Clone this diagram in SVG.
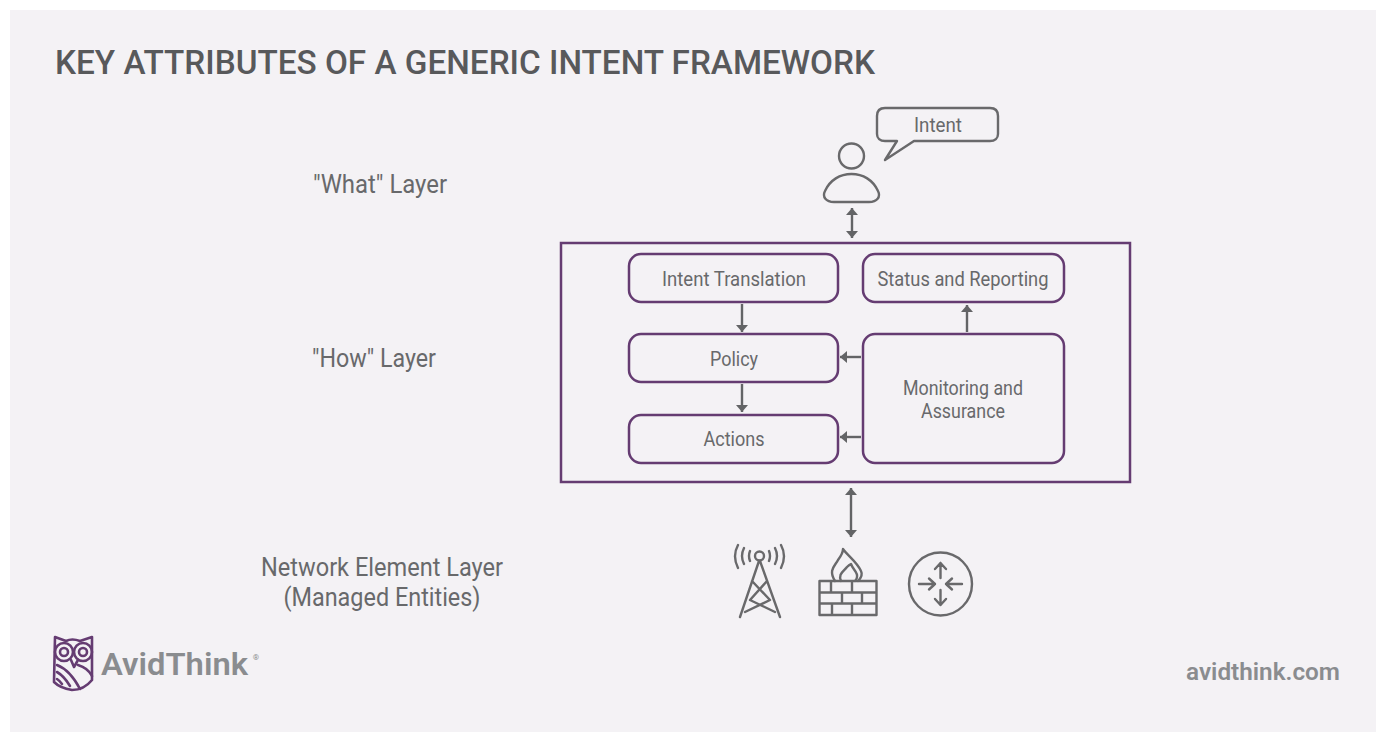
<svg xmlns="http://www.w3.org/2000/svg" width="1376" height="732" viewBox="0 0 1376 732">
<style>
text{font-family:"Roboto","Liberation Sans",sans-serif;fill:#68696b;text-anchor:middle}
.box{fill:none;stroke:#653c72;stroke-width:2.5}
.ln{fill:none;stroke:#69696b;stroke-width:2.4;stroke-linecap:round;stroke-linejoin:round}
.c{fill:none;stroke:#636466;stroke-width:2.4;marker-end:url(#a)}
.d{fill:none;stroke:#636466;stroke-width:2.4;marker-start:url(#s);marker-end:url(#a)}
.l{font-size:26px;font-weight:450}
.n{font-size:21px;font-weight:450}
.o{fill:none;stroke:#653c72;stroke-width:2.6;stroke-linejoin:round;stroke-linecap:round}
</style>
<defs>
<marker id="a" markerUnits="userSpaceOnUse" markerWidth="14" markerHeight="14" refX="11" refY="7" orient="auto"><path d="M4 1L11 7L4 13Z" fill="#636466"/></marker>
<marker id="s" markerUnits="userSpaceOnUse" markerWidth="14" markerHeight="14" refX="3" refY="7" orient="auto"><path d="M10 1L3 7L10 13Z" fill="#636466"/></marker>
</defs>
<rect width="1376" height="732" fill="#fff"/>
<rect x="10" y="10" width="1366" height="722" fill="#f4f2f5"/>
<text x="55" y="74" style="text-anchor:start;font-size:34px;font-weight:500;fill:#58595b" textLength="820" lengthAdjust="spacingAndGlyphs">KEY ATTRIBUTES OF A GENERIC INTENT FRAMEWORK</text>
<text class="l" x="380" y="193" textLength="134" lengthAdjust="spacingAndGlyphs">"What" Layer</text>
<text class="l" x="374" y="367" textLength="124" lengthAdjust="spacingAndGlyphs">"How" Layer</text>
<text class="l" x="382" y="576" textLength="242" lengthAdjust="spacingAndGlyphs">Network Element Layer</text>
<text class="l" x="382" y="606" textLength="197" lengthAdjust="spacingAndGlyphs">(Managed Entities)</text>
<g id="connectors">
<path class="d" d="M852 208V238"/>
<path class="d" d="M851 488V537"/>
<path class="c" d="M742 304V332"/>
<path class="c" d="M742 384V412"/>
<path class="c" d="M967 332V305"/>
<path class="c" d="M861 357H840"/>
<path class="c" d="M861 437H840"/>
</g>
<g id="how-layer"><rect class="box" x="561" y="243" width="569" height="239"/></g>
<g id="intent-translation"><rect class="box" x="629" y="254" width="209" height="48" rx="12"/><text class="n" x="734" y="286" textLength="144" lengthAdjust="spacingAndGlyphs">Intent Translation</text></g>
<g id="policy"><rect class="box" x="629" y="334" width="209" height="48" rx="12"/><text class="n" x="734" y="366" textLength="48" lengthAdjust="spacingAndGlyphs">Policy</text></g>
<g id="actions"><rect class="box" x="629" y="415" width="209" height="48" rx="12"/><text class="n" x="734" y="446" textLength="61" lengthAdjust="spacingAndGlyphs">Actions</text></g>
<g id="status"><rect class="box" x="863" y="254" width="201" height="48" rx="12"/><text class="n" x="963" y="286" textLength="171" lengthAdjust="spacingAndGlyphs">Status and Reporting</text></g>
<g id="monitoring"><rect class="box" x="863" y="334" width="201" height="129" rx="12"/><text class="n" x="963" y="395" textLength="120" lengthAdjust="spacingAndGlyphs">Monitoring and</text><text class="n" x="963" y="418" textLength="84" lengthAdjust="spacingAndGlyphs">Assurance</text></g>
<g id="user">
<circle class="ln" cx="851.500" cy="156" r="12.500"/>
<path class="ln" d="M834 202C826 202 822 197 825 191C830 180 840 174 851.500 174C863 174 873 180 878 191C881 197 877 202 869 202Z"/>
<path class="ln" d="M885 160L897 141H885C880 141 877 138 877 134V116C877 111 880 108 885 108H990C995 108 998 111 998 116V134C998 138 995 141 990 141H914Z"/>
<text class="n" x="938" y="132" textLength="48" lengthAdjust="spacingAndGlyphs">Intent</text>
</g>
<g id="tower">
<circle class="ln" cx="759.500" cy="556" r="4.500"/>
<path class="ln" d="M759 561L740 617M760 561L780 617M752 581L770 600L745 612M767 581L750 600L775 612"/>
<path class="ln" d="M750 551Q748 556 750 561M769 551Q771 556 769 561M744 548Q740 556 744 564M775 548Q779 556 775 564M738 545Q732 556 738 568M781 545Q787 556 781 568"/>
</g>
<g id="firewall">
<path class="ln" d="M819.500 581H876.500V615H819.500ZM819.500 592.500H876.500M819.500 603.500H876.500M831 581V592.500M852 581V592.500M842 592.500V603.500M862 592.500V603.500M832 603.500V615M852 603.500V615"/>
<path class="ln" d="M835 581C828 570 835 566 838 560C841 556 843 553 843 549C848 556 857 562 861 571C863 575 861 578 858 581"/>
<path class="ln" d="M841 581C838 574 843 572 847 567C849 565 851 564 851 564C853 570 858 572 857 577C857 579 856 580 855 581"/>
</g>
<g id="router">
<circle class="ln" cx="940.500" cy="584" r="31.500"/>
<path class="ln" d="M940.500 578V563M935 569L940.500 563L946 569M940.500 590V605M935 599L940.500 605L946 599M919 584H935M929 578.500L935 584L929 589.500M962 584H946M952 578.500L946 584L952 589.500"/>
</g>
<g id="logo">
<path class="o" d="M55 637L66 641Q72 638 80 641L92 637V680Q84 690 72 690Q60 688 54 682Z"/>
<circle class="o" cx="64" cy="652" r="9"/><circle class="o" cx="64" cy="652" r="4"/>
<circle class="o" cx="83" cy="652" r="9"/><circle class="o" cx="83" cy="652" r="4"/>
<path class="o" d="M71 660L74 667L78 660M57 665Q70 670 80 689M57 672Q64 676 70 686M57 679Q60 681 62 684M78 665Q88 668 92 676"/>
<text x="101" y="675" style="text-anchor:start;font-size:31px;font-weight:600;fill:#8a8c8f" textLength="147" lengthAdjust="spacingAndGlyphs">AvidThink</text>
<text x="256" y="660" style="font-size:8px;fill:#8a8c8f">®</text>
</g>
<text x="1263" y="680" style="font-size:23px;font-weight:600;fill:#8a8c8f" textLength="154" lengthAdjust="spacingAndGlyphs">avidthink.com</text>
</svg>
